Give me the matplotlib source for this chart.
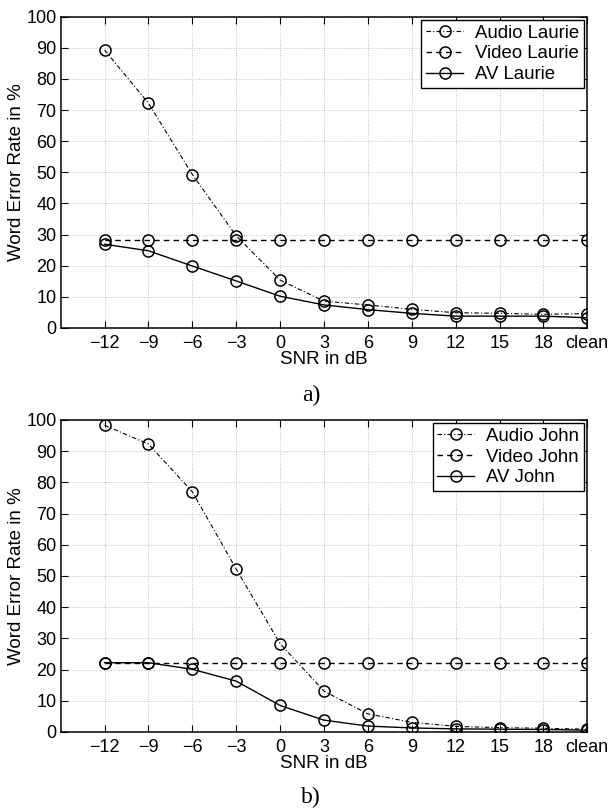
import matplotlib
matplotlib.use("Agg")
import matplotlib.pyplot as plt

plt.rcParams['font.family'] = ['Liberation Sans', 'DejaVu Sans']

# x categories (SNR in dB)
snr_labels = ['\u221212', '\u22129', '\u22126', '\u22123', '0', '3', '6', '9', '12', '15', '18', 'clean']

# a) Laurie
audio_laurie = [89.3, 72.2, 49.3, 29.6, 15.4, 8.6, 7.4, 6.0, 4.9, 4.7, 4.4, 4.6]
video_laurie = [28.1] * 12
av_laurie = [26.9, 24.8, 19.9, 15.1, 10.2, 7.4, 5.9, 4.7, 3.8, 3.8, 3.8, 3.3]

# b) John
audio_john = [98.3, 92.3, 77.0, 52.2, 28.3, 13.1, 5.8, 3.1, 1.8, 1.4, 1.2, 0.9]
video_john = [22.2] * 12
av_john = [22.2, 22.2, 20.1, 16.3, 8.5, 3.8, 1.9, 1.3, 1.0, 0.9, 0.8, 0.6]


def draw_panel(ax, audio, video, av, names):
    x = list(range(len(snr_labels)))
    mk = dict(marker='o', markersize=8, markerfacecolor='none',
              markeredgecolor='black', markeredgewidth=1.1, color='black')
    ax.plot(x, audio, linestyle=(0, (4, 2, 1, 2)), linewidth=0.8, label=names[0], **mk)
    ax.plot(x, video, linestyle=(0, (4, 3)), linewidth=1.0, label=names[1], **mk)
    ax.plot(x, av, linestyle='-', linewidth=1.0, label=names[2], **mk)

    ax.set_xlim(-1, 11)
    ax.set_ylim(0, 100)
    ax.set_xticks(x)
    ax.set_xticklabels(snr_labels)
    ax.set_yticks(range(0, 101, 10))
    ax.grid(True, linestyle=(0, (1, 2)), color='#aaaaaa', linewidth=0.6)
    ax.tick_params(direction='in', top=True, right=True, labelsize=13, length=5)
    ax.tick_params(axis='x', pad=5)
    ax.tick_params(axis='y', pad=3)
    for s in ax.spines.values():
        s.set_linewidth(1.1)
    ax.set_xlabel('SNR in dB', fontsize=13.5, labelpad=-1)
    ax.set_ylabel('Word Error Rate in %', fontsize=13.5, labelpad=1)
    leg = ax.legend(loc='upper right', fontsize=13.4, fancybox=False, framealpha=1,
                    edgecolor='black', borderaxespad=0.17, handlelength=2.0,
                    handletextpad=0.65, labelspacing=0.2, borderpad=0.25)
    leg.get_frame().set_linewidth(1.0)


fig = plt.figure(figsize=(6.11, 8.10), dpi=100)
ax1 = fig.add_axes([0.0993, 0.5951, 0.8619, 0.3843])
ax2 = fig.add_axes([0.0993, 0.0963, 0.8619, 0.3852])

draw_panel(ax1, audio_laurie, video_laurie, av_laurie,
           ['Audio Laurie', 'Video Laurie', 'AV Laurie'])
draw_panel(ax2, audio_john, video_john, av_john,
           ['Audio John', 'Video John', 'AV John'])

fig.text(0.509, 1 - 395 / 810, 'a)', ha='center', va='center',
         fontsize=17, family='Liberation Serif')
fig.text(0.509, 1 - 797 / 810, 'b)', ha='center', va='center',
         fontsize=17, family='Liberation Serif')

fig.savefig('out.png', dpi=100)
